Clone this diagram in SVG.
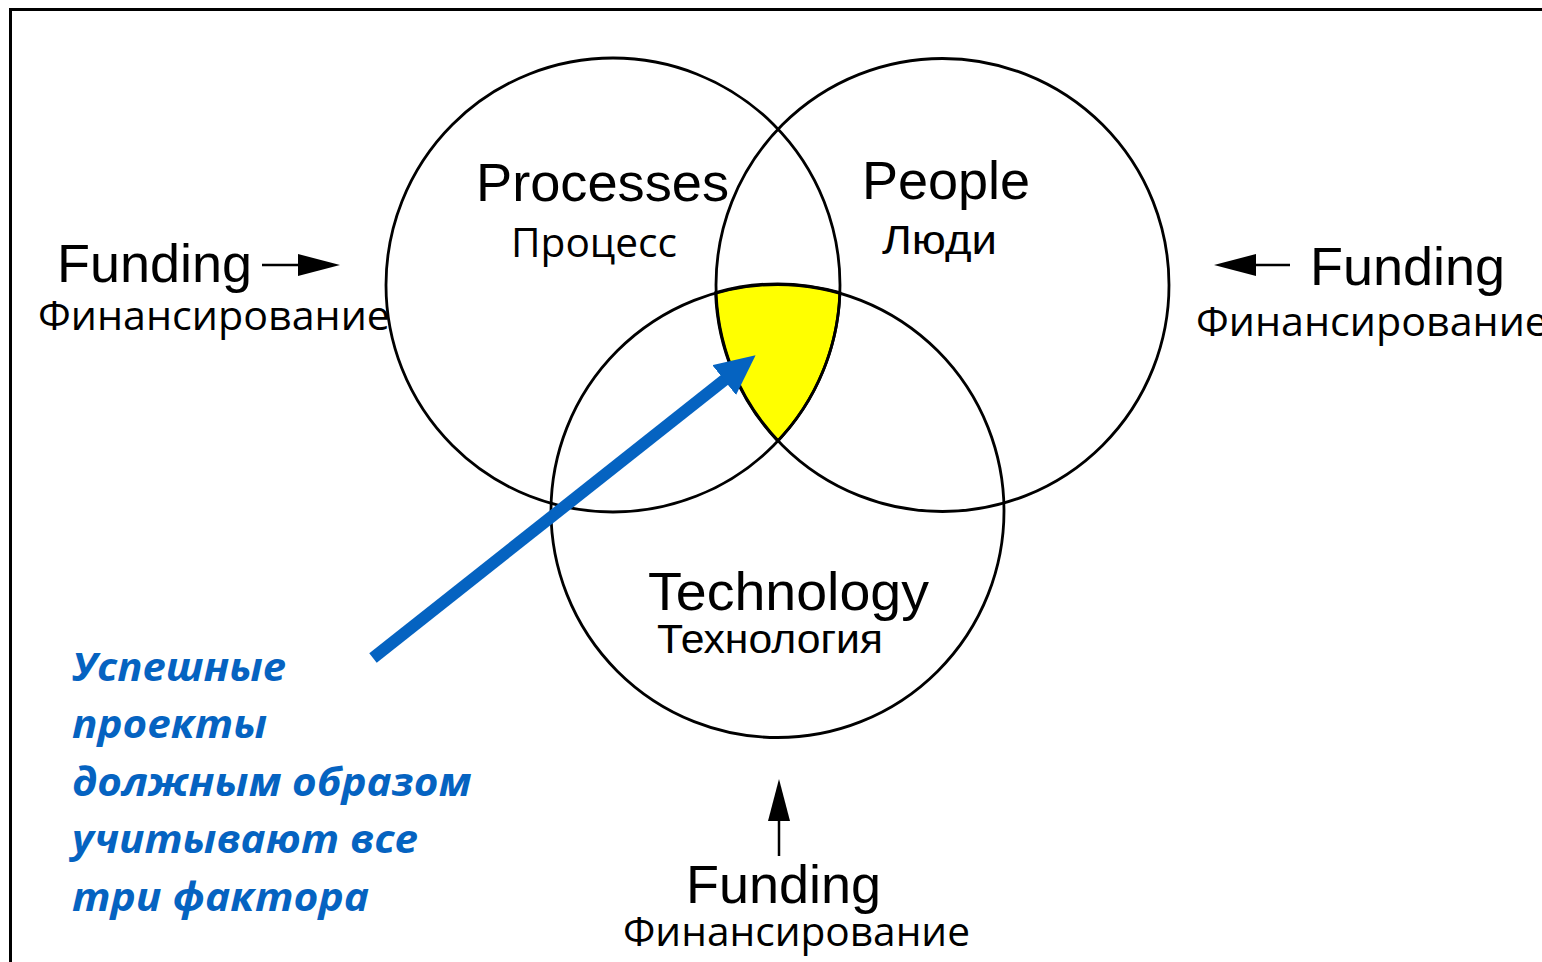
<svg xmlns="http://www.w3.org/2000/svg" width="1542" height="962" viewBox="0 0 1542 962">
<defs>
<style>
.en{font-family:"Liberation Sans",Arial,sans-serif;font-size:54px;fill:#000}
.ru{font-family:"Liberation Sans",Arial,sans-serif;font-size:40px;fill:#000}
.cal{font-family:"Open Sans","Noto Sans",sans-serif;font-size:40px;fill:#000}
.note{font-family:"Open Sans","Noto Sans",sans-serif;font-size:40px;font-weight:bold;font-style:italic;fill:#0563C1}
.circ{fill:none;stroke:#000;stroke-width:2.8}
.blk{stroke:#000;stroke-width:2.5;fill:none}
</style>
<marker id="ah" markerUnits="userSpaceOnUse" viewBox="0 0 42 22" refX="0" refY="11" markerWidth="42" markerHeight="22" orient="auto">
<polygon points="0,0 42,11 0,22" fill="#000"/>
</marker>
<marker id="bh" markerUnits="userSpaceOnUse" viewBox="0 0 40 38" refX="1" refY="19" markerWidth="40" markerHeight="38" orient="auto">
<polygon points="0,0 40,19 0,38" fill="#0563C1"/>
</marker>
</defs>
<rect x="0" y="0" width="1542" height="962" fill="#fff"/>
<rect x="10.5" y="9.5" width="1600" height="1000" fill="none" stroke="#000" stroke-width="3"/>

<path id="core" d="M715.6 292.6 A227 227 0 0 1 839.9 292.7 A227 227 0 0 1 777.75 441 A227 227 0 0 1 715.6 292.6 Z" fill="#FFFF00" stroke="#000" stroke-width="2.8"/>

<g id="processes">
<circle class="circ" cx="613" cy="285" r="227"/>
<text class="en" x="476" y="201" textLength="253" lengthAdjust="spacingAndGlyphs">Processes</text>
<text class="cal" x="511" y="257" textLength="166" lengthAdjust="spacingAndGlyphs">Процесс</text>
</g>
<g id="people">
<circle class="circ" cx="942.5" cy="285" r="226.5"/>
<text class="en" x="862" y="199">People</text>
<text class="ru" x="882" y="254" textLength="115" lengthAdjust="spacingAndGlyphs">Люди</text>
</g>
<g id="technology">
<circle class="circ" cx="777.5" cy="511" r="226.5"/>
<text class="en" x="648" y="610" textLength="281" lengthAdjust="spacingAndGlyphs">Technology</text>
<text class="ru" x="657" y="653" textLength="226" lengthAdjust="spacingAndGlyphs">Технология</text>
</g>

<g id="funding-left">
<text class="en" x="57" y="282">Funding</text>
<text class="cal" x="38" y="330" textLength="352" lengthAdjust="spacingAndGlyphs">Финансирование</text>
</g>
<g id="funding-right">
<text class="en" x="1310" y="285">Funding</text>
<text class="cal" x="1196" y="336" textLength="352" lengthAdjust="spacingAndGlyphs">Финансирование</text>
</g>
<g id="funding-bottom">
<text class="en" x="686" y="903">Funding</text>
<text class="cal" x="623" y="946" textLength="347" lengthAdjust="spacingAndGlyphs">Финансирование</text>
</g>

<g id="note">
<text class="note" x="72" y="681" textLength="214" lengthAdjust="spacingAndGlyphs">Успешные</text>
<text class="note" x="72" y="738" textLength="195" lengthAdjust="spacingAndGlyphs">проекты</text>
<text class="note" x="72" y="796" textLength="399" lengthAdjust="spacingAndGlyphs">должным образом</text>
<text class="note" x="72" y="853" textLength="346" lengthAdjust="spacingAndGlyphs">учитывают все</text>
<text class="note" x="72" y="911" textLength="297" lengthAdjust="spacingAndGlyphs">три фактора</text>
</g>

<g id="connectors">
<line class="blk" x1="262" y1="265" x2="298" y2="265" marker-end="url(#ah)"/>
<line class="blk" x1="1290" y1="265" x2="1256" y2="265" marker-end="url(#ah)"/>
<line class="blk" x1="779" y1="856" x2="779" y2="821" marker-end="url(#ah)"/>
<line x1="373" y1="658" x2="725" y2="379.5" stroke="#0563C1" stroke-width="12" marker-end="url(#bh)"/>
</g>
</svg>
